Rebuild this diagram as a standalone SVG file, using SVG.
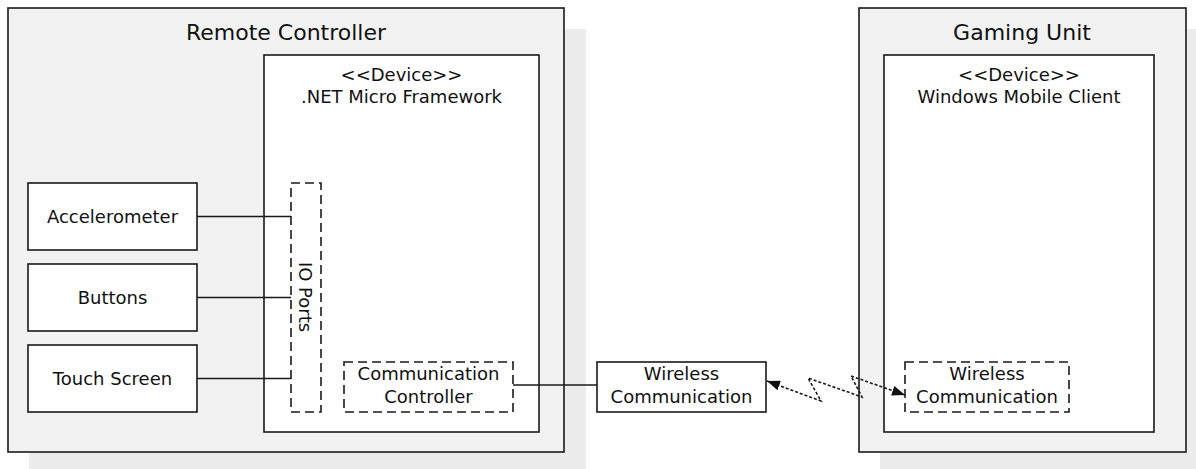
<svg xmlns="http://www.w3.org/2000/svg" width="1196" height="469" viewBox="0 0 1196 469">
<defs>
<style>
.shadow{fill:#ececec;stroke:none}
.outer{fill:#f2f2f2;stroke:#1a1a1a;stroke-width:1.6}
.inner{fill:#ffffff;stroke:#1a1a1a;stroke-width:1.6}
.box{fill:#ffffff;stroke:#1a1a1a;stroke-width:1.6}
.dash{fill:#ffffff;stroke:#1a1a1a;stroke-width:1.6;stroke-dasharray:9,5}
.title{font-family:"DejaVu Sans",sans-serif;font-size:22px;fill:#111;text-anchor:middle}
.lbl{font-family:"DejaVu Sans",sans-serif;font-size:18px;fill:#111;text-anchor:middle}
.conn{fill:none;stroke:#1a1a1a;stroke-width:1.6}
.dot{fill:none;stroke:#1a1a1a;stroke-width:1.6;stroke-dasharray:3,2}
</style>
<marker id="arr" viewBox="0 0 13 10" refX="13" refY="5" markerWidth="13" markerHeight="10" markerUnits="userSpaceOnUse" orient="auto-start-reverse">
<path d="M0,0 L13,5 L0,10 z" fill="#111"/>
</marker>
</defs>

<g id="remote-controller">
<rect class="shadow" x="29" y="29" width="557" height="444"/>
<rect class="outer" x="8" y="8" width="556" height="444"/>
<text class="title" x="286" y="40">Remote Controller</text>
</g>

<g id="net-micro-framework">
<rect class="inner" x="264" y="55" width="275" height="377"/>
<text class="lbl" x="401.5" y="81">&lt;&lt;Device&gt;&gt;</text>
<text class="lbl" x="401.5" y="103">.NET Micro Framework</text>
</g>

<g id="io-ports">
<rect class="dash" x="291" y="183" width="30" height="229"/>
<text class="lbl" transform="translate(299,297) rotate(90)" x="0" y="0">IO Ports</text>
</g>

<g id="comm-controller">
<rect class="dash" x="344" y="362" width="169" height="50"/>
<text class="lbl" x="428.5" y="380">Communication</text>
<text class="lbl" x="428.5" y="403">Controller</text>
</g>

<g id="accelerometer">
<rect class="box" x="28" y="183" width="169" height="67"/>
<text class="lbl" x="112.5" y="223">Accelerometer</text>
</g>

<g id="buttons">
<rect class="box" x="28" y="264" width="169" height="67"/>
<text class="lbl" x="112.5" y="304">Buttons</text>
</g>

<g id="touch-screen">
<rect class="box" x="28" y="345" width="169" height="67"/>
<text class="lbl" x="112.5" y="385">Touch Screen</text>
</g>

<g id="wireless-communication">
<rect class="box" x="597" y="362" width="169" height="50"/>
<text class="lbl" x="681.5" y="380">Wireless</text>
<text class="lbl" x="681.5" y="403">Communication</text>
</g>

<g id="gaming-unit">
<rect class="shadow" x="880" y="29" width="320" height="444"/>
<rect class="outer" x="859" y="8" width="327" height="444"/>
<text class="title" x="1022" y="40">Gaming Unit</text>
</g>

<g id="windows-mobile-client">
<rect class="inner" x="884" y="55" width="270" height="377"/>
<text class="lbl" x="1019" y="81">&lt;&lt;Device&gt;&gt;</text>
<text class="lbl" x="1019" y="103">Windows Mobile Client</text>
</g>

<g id="gaming-wireless">
<rect class="dash" x="905" y="362" width="164" height="50"/>
<text class="lbl" x="987" y="380">Wireless</text>
<text class="lbl" x="987" y="403">Communication</text>
</g>

<g id="connectors">
<line class="conn" x1="197" y1="216.5" x2="291" y2="216.5"/>
<line class="conn" x1="197" y1="297.5" x2="291" y2="297.5"/>
<line class="conn" x1="197" y1="378.5" x2="291" y2="378.5"/>
<line class="conn" x1="513" y1="385" x2="597" y2="385"/>
<path class="dot" d="M767,381 L821,401 L808,378 L862,397 L851,376 L905,395" marker-start="url(#arr)" marker-end="url(#arr)"/>
</g>
</svg>
